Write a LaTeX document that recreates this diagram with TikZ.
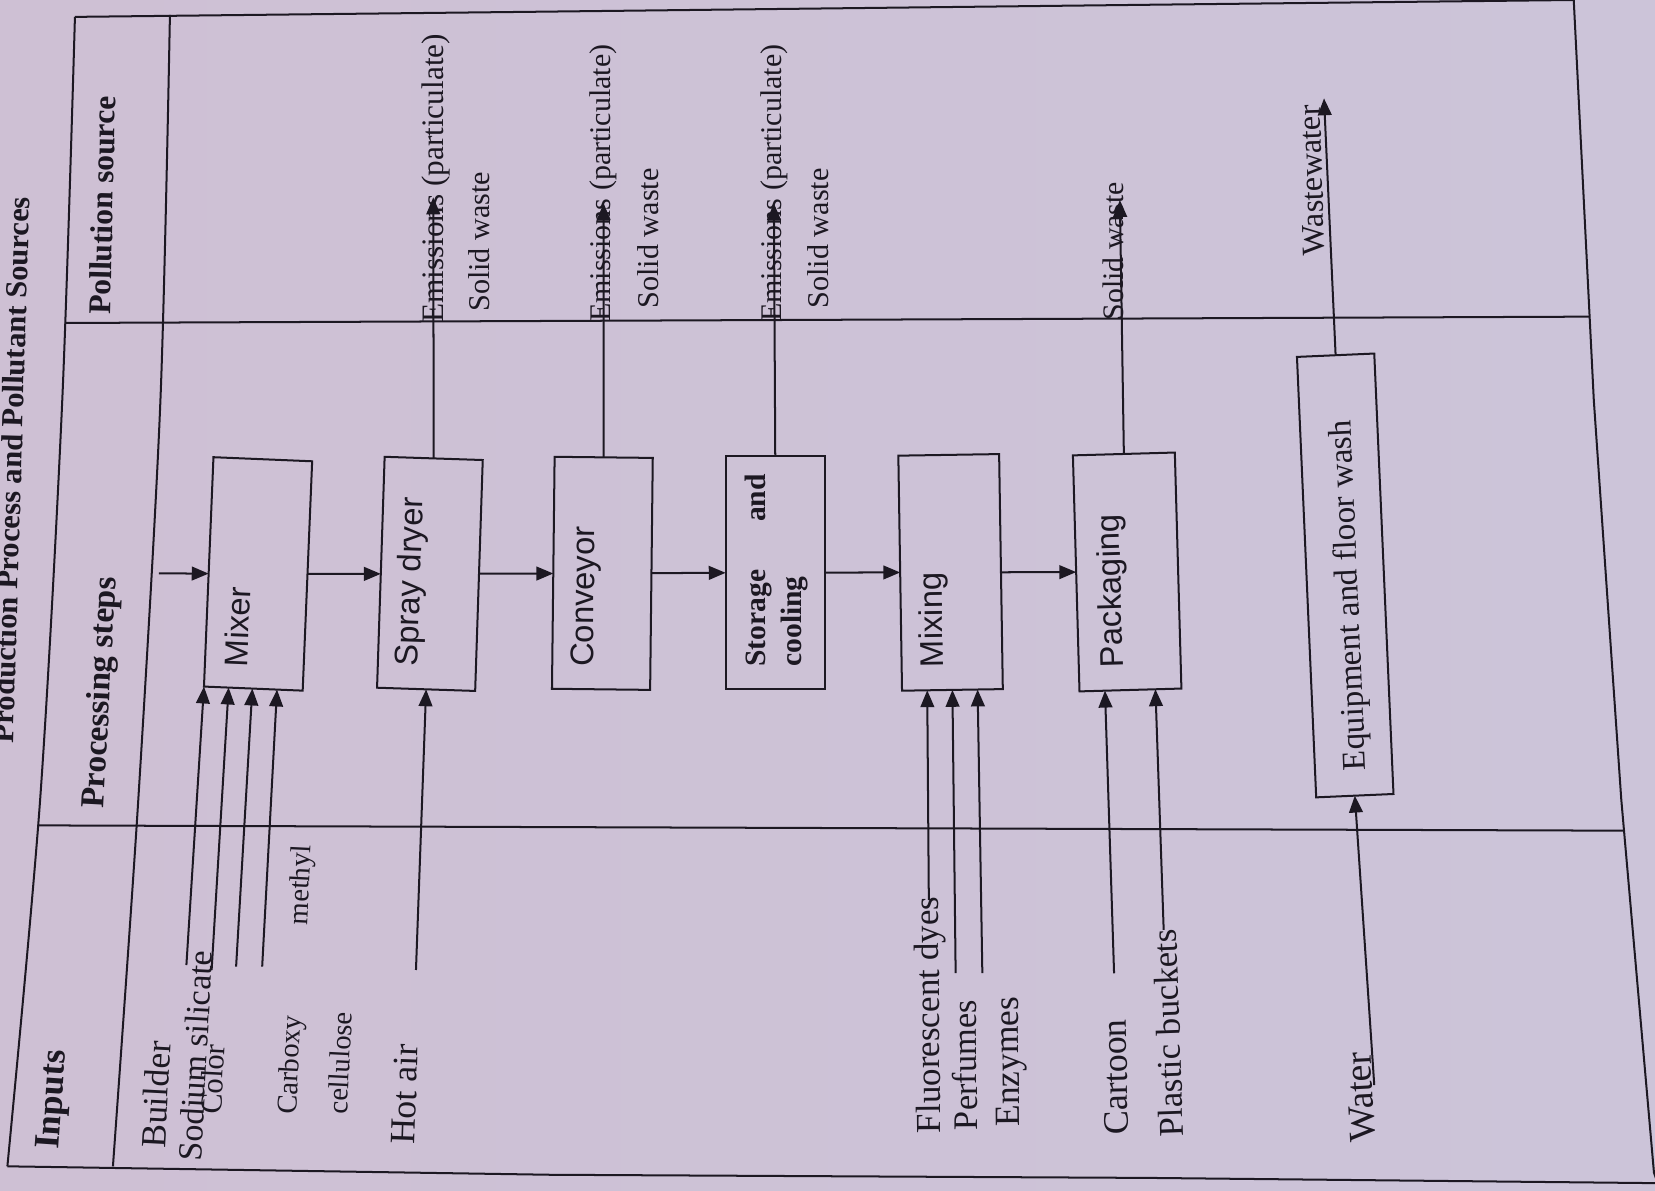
\documentclass[tikz,border=0pt]{standalone}
\usepackage{fontspec}
\setmainfont{Liberation Serif}
\newfontfamily\boxsans{Liberation Sans}
\usetikzlibrary{arrows.meta,calc}
\definecolor{paperL}{RGB}{206,192,212}
\definecolor{paperM}{RGB}{200,195,217}
\definecolor{paperR}{RGB}{204,196,217}
\definecolor{ink}{RGB}{28,24,34}
\newcommand{\myfs}[1]{\fontsize{#1}{#1}\selectfont}
\tikzset{
  tline/.style={draw=ink, line width=0.95pt, line join=round},
  procbox/.style={draw=ink, line width=0.95pt, rectangle, inner sep=0pt, outer sep=0pt},
  arr/.style={draw=ink, line width=0.95pt, -{Triangle[length=8pt,width=6.5pt]}},
  lbl/.style={inner sep=0pt, outer sep=0pt, text=ink, anchor=base west},
}
\begin{document}
\begin{tikzpicture}[x=0.5pt,y=-0.5pt]
\useasboundingbox (0,0) rectangle (1568,1128);
\clip (0,0) rectangle (1568,1128);
\shade[left color=paperL, middle color=paperM, right color=paperR] (-2,-2) rectangle (1570,1130);

% table frame and dividers
\draw[tline] plot[smooth] coordinates {(71,16) (59,379) (38,758) (7,1105)};
\draw[tline] (71,16) -- (520,11) -- (1090,4.5) -- (1491,0) -- (1492,-5);
\draw[tline] (1491,0) -- (1510,379) -- (1536,757) -- (1567,1111) -- (1572,1125);
\draw[tline] (7,1105) -- (521,1113) -- (1090,1116) -- (1575,1121);
\draw[tline] plot[smooth] coordinates {(161,14) (152,379) (131,758) (107,1105)};
\draw[tline] (61.5,306) -- (1506,300);
\draw[tline] (36,782) -- (1538.5,787);

% process boxes
\node[procbox, rotate=87.63, minimum width=108.75pt, minimum height=46.8pt] (mixer) at (244.5,543.75) {};
\node[procbox, rotate=88.12, minimum width=109.45pt, minimum height=46.5pt] (spray) at (407.3,543.7) {};
\node[procbox, rotate=89.35, minimum width=109.9pt, minimum height=46.5pt] (conv) at (570.7,543.2) {};
\node[procbox, rotate=90, minimum width=110.5pt, minimum height=47pt] (stor) at (734.5,542.5) {};
\node[procbox, rotate=90.9, minimum width=111.35pt, minimum height=47.75pt] (mixing) at (900.6,542.3) {};
\node[procbox, rotate=91.6, minimum width=111.85pt, minimum height=48.3pt] (pack) at (1067.9,541.9) {};
\node[procbox, rotate=92.5, minimum width=208.85pt, minimum height=36.65pt] (equip) at (1274.5,545.2) {};

% box texts
\node[lbl, rotate=87.63, font=\boxsans\myfs{15.5}] (tmixer) at (234.5,632) {Mixer};
\node[lbl, rotate=88.12, font=\boxsans\myfs{15.5}] (tspray) at (395.5,631.6) {Spray dryer};
\node[lbl, rotate=89.35, font=\boxsans\myfs{15.5}] (tconv) at (562,631.6) {Conveyor};
\node[lbl, rotate=90, font=\bfseries\myfs{14}] (tstor1) at (725,631.6) {Storage};
\node[lbl, rotate=90, font=\bfseries\myfs{14}] (tstor2) at (725,494.5) {and};
\node[lbl, rotate=90, font=\bfseries\myfs{14}] (tstor3) at (759,631.6) {cooling};
\node[lbl, rotate=90.9, font=\boxsans\myfs{15.5}] (tmixing) at (893.5,632) {Mixing};
\node[lbl, rotate=91.6, font=\boxsans\myfs{15.5}] (tpack) at (1064,632) {Packaging};
\node[lbl, rotate=92.5, font=\myfs{15.7}] (tequip) at (1294,729.6) {Equipment and floor wash};

% input labels
\node[lbl, rotate=87, font=\myfs{16.8}] (lbuilder) at (156.6,1088) {Builder};
\node[lbl, rotate=87, font=\myfs{16.1}] (lsodium) at (190.8,1100.6) {Sodium silicate};
\node[lbl, rotate=87, font=\myfs{14.5}] (lcolor) at (209.4,1056) {Color};
\node[lbl, rotate=87.2, font=\myfs{13.6}] (lcarb) at (280.5,1056) {Carboxy};
\node[lbl, rotate=87.2, font=\myfs{13.6}] (lmeth) at (291,876.4) {methyl};
\node[lbl, rotate=87.2, font=\myfs{13.6}] (lcell) at (329,1056) {cellulose};
\node[lbl, rotate=88, font=\myfs{16.9}] (lhot) at (392.8,1084.8) {Hot air};
\node[lbl, rotate=90.5, font=\myfs{16.6}] (lfluo) at (891,1073.6) {Fluorescent dyes};
\node[lbl, rotate=90.5, font=\myfs{16.3}] (lperf) at (926,1070.6) {Perfumes};
\node[lbl, rotate=90.5, font=\myfs{16.8}] (lenz) at (966,1067.4) {Enzymes};
\node[lbl, rotate=91.3, font=\myfs{17}] (lcart) at (1069.2,1075) {Cartoon};
\node[lbl, rotate=92, font=\myfs{16.5}] (lplast) at (1121.4,1077) {Plastic buckets};
\node[lbl, rotate=93, font=\myfs{18}] (lwater) at (1302.8,1081.6) {Water};

% pollution labels
\node[lbl, rotate=90, font=\myfs{14.8}] (le1) at (420,306) {Emissions (particulate)};
\node[lbl, rotate=90, font=\myfs{14.3}] (ls1) at (463.5,295.3) {Solid waste};
\node[lbl, rotate=90, font=\myfs{14.2}] (le2) at (578,304.8) {Emissions (particulate)};
\node[lbl, rotate=90, font=\myfs{14.3}] (ls2) at (623.5,292.1) {Solid waste};
\node[lbl, rotate=90, font=\myfs{14.2}] (le3) at (740,304.8) {Emissions (particulate)};
\node[lbl, rotate=90, font=\myfs{14.3}] (ls3) at (785,292.1) {Solid waste};
\node[lbl, rotate=90, font=\myfs{14.1}] (ls4) at (1064.5,303.2) {Solid waste};
\node[lbl, rotate=91.7, font=\myfs{15.3}] (lww) at (1255,241.6) {Wastewater};

% headers and title
\node[lbl, rotate=88.6, font=\bfseries\myfs{15}] (hpoll) at (104.5,298.4) {Pollution source};
\node[lbl, rotate=87, font=\bfseries\myfs{15.9}] (hproc) at (98.3,766) {Processing steps};
\node[lbl, rotate=86, font=\bfseries\myfs{17}] (hin) at (55.7,1089.5) {Inputs};
\node[lbl, anchor=base east, rotate=88.3, font=\bfseries\myfs{14.5}] (title) at (28,187) {Production Process and Pollutant Sources};

% main flow
\coordinate (feed) at (150.5,543.2);
\draw[arr] (feed) -- (mixer);
\draw[arr] (mixer) -- (spray);
\draw[arr] (spray) -- (conv);
\draw[arr] (conv) -- (stor);
\draw[arr] (stor) -- (mixing);
\draw[arr] (mixing) -- (pack);

% inputs to mixer
\coordinate (iB) at (176.6,914.3);
\coordinate (iS) at (200.5,919);
\coordinate (iC) at (223.7,915.8);
\coordinate (iM) at (248.4,915.8);
\draw[arr] (iB) -- (mixer.north west);
\draw[arr] (iS) -- ($(mixer.north west)!0.25!(mixer.south west)$);
\draw[arr] (iC) -- ($(mixer.north west)!0.49!(mixer.south west)$);
\draw[arr] (iM) -- ($(mixer.north west)!0.74!(mixer.south west)$);
% hot air
\coordinate (iH) at (394.1,919);
\draw[arr] (iH) -- (spray.west);
% inputs to mixing
\coordinate (iF) at (880,852.7);
\coordinate (iP) at (905.4,922);
\coordinate (iE) at (930.7,922);
\draw[arr] (iF) -- ($(mixing.north west)!0.25!(mixing.south west)$);
\draw[arr] (iP) -- (mixing.west);
\draw[arr] (iE) -- ($(mixing.north west)!0.75!(mixing.south west)$);
% inputs to packaging
\coordinate (iCa) at (1055.5,922.1);
\coordinate (iPl) at (1102.5,881);
\draw[arr] (iCa) -- ($(pack.north west)!0.25!(pack.south west)$);
\draw[arr] (iPl) -- ($(pack.north west)!0.745!(pack.south west)$);
% water
\coordinate (iW) at (1302,1028);
\draw[arr] (iW) -- (equip.west);

% pollution outputs
\coordinate (o1) at (410.5,187);
\coordinate (o2) at (571.9,192.6);
\coordinate (o3) at (733.2,192.6);
\coordinate (o4) at (1061,189.5);
\coordinate (o5) at (1254.4,93.2);
\draw[arr] (spray.east) -- (o1);
\draw[arr] (conv.east) -- (o2);
\draw[arr] (stor.east) -- (o3);
\draw[arr] (pack.east) -- (o4);
\draw[arr] (equip.east) -- (o5);
\end{tikzpicture}
\end{document}
